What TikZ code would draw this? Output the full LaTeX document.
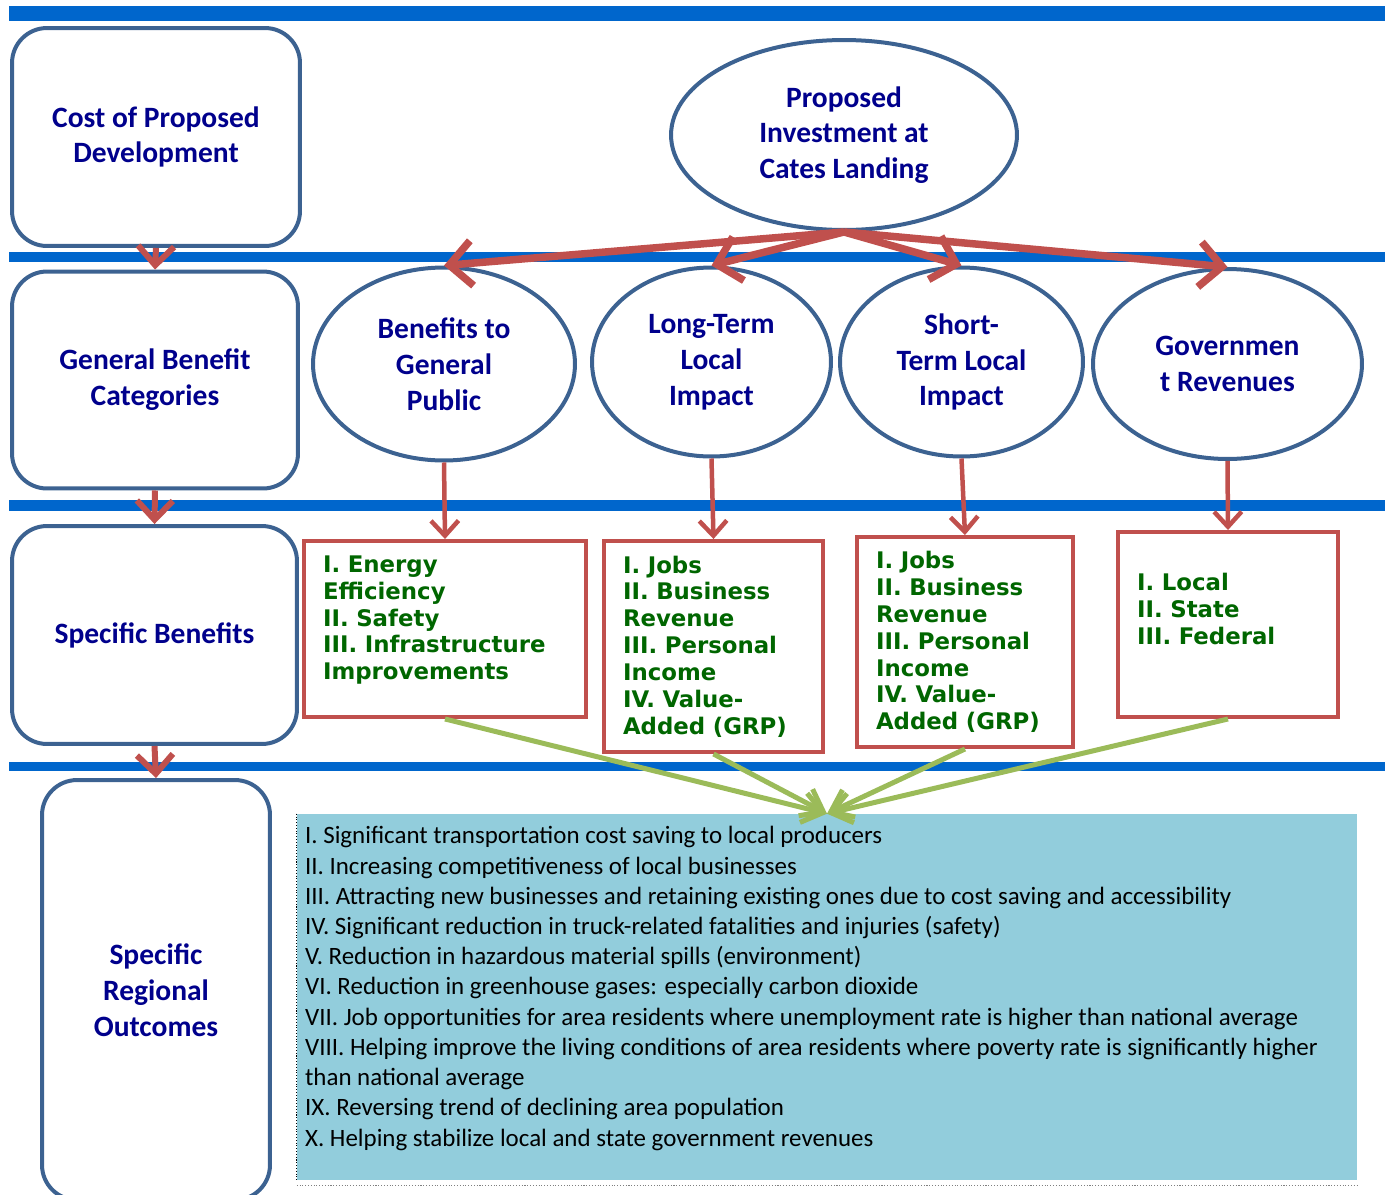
\documentclass[tikz,border=0pt]{standalone}
\usepackage{fontspec}
\setmainfont{Carlito}
\newfontfamily\benefitfont{DejaVu Sans}
\usepackage{tikz}
\usetikzlibrary{shapes.geometric}
\usetikzlibrary{arrows.meta}
\definecolor{barblue}{HTML}{0066CC}
\definecolor{frameblue}{HTML}{3C6291}
\definecolor{labelnavy}{HTML}{00008C}
\definecolor{arrowred}{HTML}{C0504D}
\definecolor{arrowgreen}{HTML}{9BBB59}
\definecolor{textgreen}{HTML}{006600}
\definecolor{listblue}{HTML}{92CDDC}

\begin{document}
\begin{tikzpicture}[x=0.02cm,y=-0.02cm,
stage/.style={rectangle,rounded corners=0.7cm,draw=frameblue,line width=0.08cm,align=center,text=labelnavy,font=\fontsize{16.8pt}{20.4pt}\selectfont\bfseries},
impact/.style={ellipse,draw=frameblue,line width=0.08cm,inner sep=0pt,align=center,text=labelnavy,font=\fontsize{16.8pt}{20.4pt}\selectfont\bfseries},
effect/.style={rectangle,draw=arrowred,line width=0.08cm,inner xsep=0.38cm,inner ysep=0pt,align=left,text=textgreen,font=\benefitfont\fontsize{13pt}{15.3pt}\selectfont\bfseries},
fanarrow/.style={draw=arrowred,line width=0.15cm,-{Straight Barb[length=0.45cm,width=0.9cm]}},
droparrow/.style={draw=arrowred,line width=0.09cm,-{Straight Barb[length=0.3cm,width=0.55cm]}},
stagearrow/.style={draw=arrowred,line width=0.12cm,-{Straight Barb[length=0.38cm,width=0.72cm]}},
feedarrow/.style={draw=arrowgreen,line width=0.1cm,-{Straight Barb[length=0.4cm,width=0.6cm]}}]
\useasboundingbox (0,0) rectangle (1390,1194);
\clip (0,0) rectangle (1390,1194);
\fill[barblue] (9,6) rectangle (1385,21);
\fill[barblue] (9,252) rectangle (1385,262);
\fill[barblue] (9,500) rectangle (1385,511);
\fill[barblue] (9,762) rectangle (1385,771);
\node (cost) at (156,137) [stage,minimum width=5.76cm,minimum height=4.36cm] {Cost of Proposed\\Development};
\node (general) at (155,380) [stage,minimum width=5.72cm,minimum height=4.34cm] {General Benefit\\Categories};
\node (specific) at (154.5,635) [stage,minimum width=5.70cm,minimum height=4.36cm] {Specific Benefits};
\node (outcome) at (156,990) [stage,minimum width=4.56cm,minimum height=8.4cm] {Specific\\Regional\\Outcomes};
\node (invest) at (844,135) [impact,minimum width=6.92cm,minimum height=3.8cm] {Proposed\\Investment at\\Cates Landing};
\node (public) at (444,364) [impact,minimum width=5.24cm,minimum height=3.86cm] {Benefits to\\General\\Public};
\node (longterm) at (711.5,362) [impact,minimum width=4.78cm,minimum height=3.78cm] {Long-Term\\Local\\Impact};
\node (shortterm) at (961.5,362) [impact,minimum width=4.86cm,minimum height=3.78cm] {Short-\\Term Local\\Impact};
\node (govt) at (1227.5,364) [impact,minimum width=5.38cm,minimum height=3.8cm] {Governmen\\t Revenues};
\node (effpublic) at (445,629) [effect,text width=4.88cm,minimum width=5.64cm,minimum height=3.52cm,text depth=2.6cm] {I. Energy\\Efficiency\\II. Safety\\III. Infrastructure\\Improvements};
\node (efflong) at (713.5,646.5) [effect,text width=3.62cm,minimum width=4.38cm,minimum height=4.22cm] {I. Jobs\\II. Business\\Revenue\\III. Personal\\Income\\IV. Value-\\Added (GRP)};
\node (effshort) at (965,642) [effect,text width=3.56cm,minimum width=4.32cm,minimum height=4.2cm] {I. Jobs\\II. Business\\Revenue\\III. Personal\\Income\\IV. Value-\\Added (GRP)};
\node (effgovt) at (1228,624.5) [effect,text width=3.64cm,minimum width=4.4cm,minimum height=3.7cm,text depth=1.7cm] {I. Local\\II. State\\III. Federal};
\node (list) at (827,997) [fill=listblue,inner sep=0pt,minimum width=21.2cm,minimum height=7.32cm] {\begin{minipage}[c][7.32cm][t]{20.88cm}\vspace*{0.25cm}\raggedright\fontsize{14.2pt}{17.2pt}\selectfont
I. Significant transportation cost saving to local producers\\
II. Increasing competitiveness of local businesses\\
III. Attracting new businesses and retaining existing ones due to cost saving and accessibility\\
IV. Significant reduction in truck-related fatalities and injuries (safety)\\
V. Reduction in hazardous material spills (environment)\\
VI. Reduction in greenhouse gases: especially carbon dioxide\\
VII. Job opportunities for area residents where unemployment rate is higher than national average\\
VIII. Helping improve the living conditions of area residents where poverty rate is significantly higher\\
than national average\\
IX. Reversing trend of declining area population\\
X. Helping stabilize local and state government revenues
\end{minipage}};
\draw[densely dotted,line width=0.6pt] (list.north west) -- (list.south west);
\draw[densely dotted,line width=0.6pt,gray] ([yshift=-0.1cm]list.south west) -- ([yshift=-0.1cm]list.south east);
\draw[stagearrow] (cost.south) -- (general.north);
\draw[stagearrow] (general.south) -- (specific.north);
\draw[stagearrow] (specific.south) -- (outcome.north);
\draw[fanarrow] (invest.south) -- (public.north);
\draw[fanarrow] (invest.south) -- (longterm.north);
\draw[fanarrow] (invest.south) -- (shortterm.north);
\draw[fanarrow] (invest.south) -- (govt.north);
\draw[droparrow] (public.south) -- (effpublic.north);
\draw[droparrow] (longterm.south) -- (efflong.north);
\draw[droparrow] (shortterm.south) -- (effshort.north);
\draw[droparrow] (govt.south) -- (effgovt.north);
\draw[feedarrow] (effpublic.south) -- (list.north);
\draw[feedarrow] (efflong.south) -- (list.north);
\draw[feedarrow] (effshort.south) -- (list.north);
\draw[feedarrow] (effgovt.south) -- (list.north);
\end{tikzpicture}
\end{document}
